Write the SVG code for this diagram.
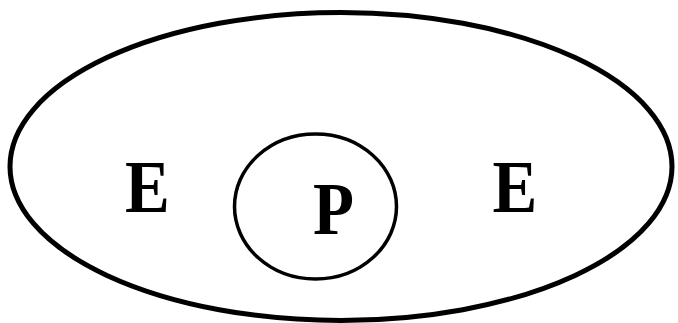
<svg xmlns="http://www.w3.org/2000/svg" width="678" height="323" viewBox="0 0 678 323">
<style>
.shape{fill:none;stroke:#000}
.lbl{font-weight:bold;font-size:73px;fill:#000;text-anchor:middle}
</style>
<rect width="678" height="323" fill="#fff"/>
<g id="outer">
<ellipse class="shape" cx="341" cy="166.5" rx="331" ry="154" stroke-width="5"/>
<text class="lbl" font-family="Liberation Serif, serif" transform="translate(147.5,211.5) scale(0.92,1)">E</text>
<text class="lbl" font-family="Liberation Serif, serif" transform="translate(515,211.5) scale(0.92,1)">E</text>
</g>
<g id="inner">
<ellipse class="shape" cx="315.5" cy="206.5" rx="81" ry="72.5" stroke-width="3.5"/>
<text class="lbl" font-family="Liberation Serif, serif" transform="translate(333.5,233.5) scale(0.92,1)">P</text>
</g>
<g id="connectors"/>
</svg>
